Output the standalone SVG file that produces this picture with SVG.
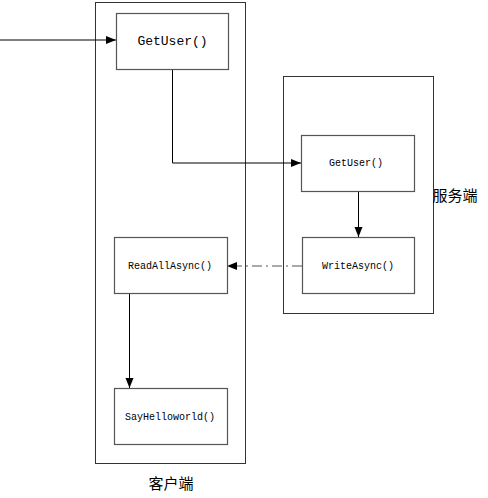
<svg xmlns="http://www.w3.org/2000/svg" width="488" height="498" viewBox="0 0 488 498">
<style>
.container{fill:none;stroke:#333;stroke-width:1}
.box{fill:#fff;stroke:#555;stroke-width:1.2}
.t{font-family:"Liberation Mono","DejaVu Sans Mono",monospace;font-size:10px;fill:#000;text-anchor:middle;dominant-baseline:central}
.big{font-size:13px}
.cn{font-family:"Noto Sans CJK SC",sans-serif;font-size:15px;fill:#000;text-anchor:middle;dominant-baseline:central}
.line{fill:none;stroke:#000;stroke-width:1}
.dash{fill:none;stroke:#555;stroke-width:1;stroke-dasharray:10,4,2,4}
</style>
<defs>
<marker id="arr" viewBox="0 0 10 10" refX="10" refY="5" markerWidth="10" markerHeight="10" markerUnits="userSpaceOnUse" orient="auto">
<path d="M0,1 L10,5 L0,9 Z" fill="#000"/>
</marker>
</defs>
<g id="client">
<rect class="container" x="95.5" y="2.5" width="150" height="461"/>
<text class="cn" x="171" y="482">客户端</text>
</g>
<g id="server">
<rect class="container" x="283.5" y="76.5" width="150" height="237"/>
<text class="cn" x="455" y="194">服务端</text>
</g>
<g id="connectors">
<line class="line" x1="0" y1="40" x2="116" y2="40" marker-end="url(#arr)"/>
<polyline class="line" points="172.5,69 172.5,163 301,163" marker-end="url(#arr)"/>
<line class="line" x1="358.5" y1="191" x2="358.5" y2="237" marker-end="url(#arr)"/>
<line class="dash" x1="302" y1="266" x2="227" y2="266" marker-end="url(#arr)"/>
<line class="line" x1="129.5" y1="294" x2="129.5" y2="388" marker-end="url(#arr)"/>
</g>
<g id="getuser-client">
<rect class="box" x="116.5" y="13.5" width="112" height="56"/>
<text class="t big" x="172.5" y="41">GetUser()</text>
</g>
<g id="getuser-server">
<rect class="box" x="301.5" y="135.5" width="113" height="56"/>
<text class="t" x="356" y="163">GetUser()</text>
</g>
<g id="writeasync">
<rect class="box" x="302.5" y="237.5" width="112" height="56"/>
<text class="t" x="358" y="266">WriteAsync()</text>
</g>
<g id="readallasync">
<rect class="box" x="114.5" y="237.5" width="113" height="56"/>
<text class="t" x="170" y="266">ReadAllAsync()</text>
</g>
<g id="sayhelloworld">
<rect class="box" x="114.5" y="388.5" width="113" height="56"/>
<text class="t" x="170" y="417">SayHelloworld()</text>
</g>
</svg>
